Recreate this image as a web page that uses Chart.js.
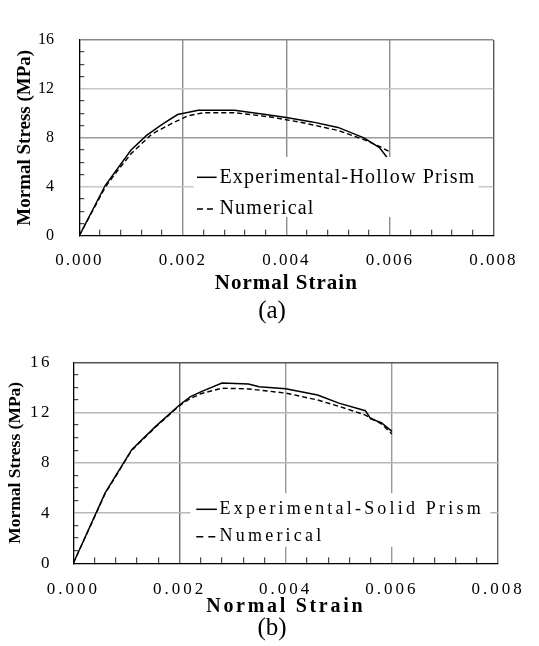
<!DOCTYPE html>
<html>
<head>
<meta charset="utf-8">
<script src="https://cdn.jsdelivr.net/npm/chart.js@4.4.1/dist/chart.umd.min.js"></script>
<style>
  body { margin: 0; background: #fff; }
  #page { position: relative; width: 539px; height: 646px; }
  canvas { position: absolute; left: 0; }
  #chartA { top: 0; }
  #chartB { top: 320px; }
  .caption {
    position: absolute; left: 222px; width: 100px; text-align: center;
    font: 25px/1 "Liberation Serif", "Times New Roman", serif; color: #000;
  }
</style>
</head>
<body>
<div id="page">
  <canvas id="chartA" width="539" height="300"></canvas>
  <div class="caption" style="top:297px">(a)</div>
  <canvas id="chartB" width="539" height="310"></canvas>
  <div class="caption" style="top:614px">(b)</div>
</div>
<script>
// tick labels
const xTickLabels = ['0.000', '0.002', '0.004', '0.006', '0.008'];
const yTickLabels = ['0', '4', '8', '12', '16'];

// (a) hollow prism
const hollowExpStrain = [0, 0.0005, 0.001, 0.0013, 0.0016, 0.0019, 0.0023, 0.003, 0.0036, 0.004, 0.0045, 0.005, 0.0055, 0.0058, 0.006];
const hollowExpStress = [0, 4.1, 7.0, 8.2, 9.1, 9.9, 10.25, 10.25, 9.9, 9.65, 9.3, 8.85, 8.0, 7.2, 6.1];
const hollowNumStrain = [0, 0.0005, 0.0007, 0.001, 0.0014, 0.0018, 0.0021, 0.0024, 0.003, 0.0037, 0.0043, 0.005, 0.0055, 0.0058, 0.006];
const hollowNumStress = [0, 3.95, 5.1, 6.7, 8.3, 9.2, 9.8, 10.05, 10.05, 9.7, 9.25, 8.6, 7.85, 7.3, 6.85];

// (b) solid prism
const solidExpStrain = [0, 0.0006, 0.0011, 0.00155, 0.002, 0.0022, 0.0024, 0.0028, 0.0033, 0.0035, 0.004, 0.0046, 0.005, 0.0055, 0.0056, 0.0058, 0.006];
const solidExpStress = [0, 5.6, 9.05, 10.9, 12.6, 13.25, 13.65, 14.35, 14.28, 14.05, 13.9, 13.4, 12.75, 12.15, 11.5, 11.2, 10.5];
const solidNumStrain = [0, 0.0006, 0.0011, 0.00155, 0.002, 0.0022, 0.0024, 0.0028, 0.0033, 0.004, 0.0046, 0.005, 0.0055, 0.0058, 0.006];
const solidNumStress = [0, 5.55, 9.0, 10.85, 12.55, 13.1, 13.5, 13.94, 13.88, 13.55, 13.0, 12.5, 11.8, 11.1, 10.3];

const SERIF = '"Liberation Serif", "Times New Roman", serif';
Chart.defaults.font.family = SERIF;
Chart.defaults.color = '#000';

const CLEAR = 'rgba(0,0,0,0)';

function points(xs, ys) {
    return xs.map((x, i) => ({ x: x, y: ys[i] }));
}

function onStep(v, step) {
    return Math.abs(v / step - Math.round(v / step)) < 1e-6;
}

// Chart.js has no letter-spacing option, so wrap the scale's text drawing
function spaceText(scale, labelGap, titleGap) {
    if (scale.spaced) return;
    scale.spaced = true;
    const ctx = scale.ctx;
    const drawLabels = scale.drawLabels;
    const drawTitle = scale.drawTitle;
    scale.drawLabels = function(area) {
        ctx.letterSpacing = labelGap;
        drawLabels.call(scale, area);
        ctx.letterSpacing = '0px';
    };
    scale.drawTitle = function() {
        ctx.letterSpacing = titleGap;
        drawTitle.call(scale);
        ctx.letterSpacing = '0px';
    };
}

// legend in a white box inside the plot
const boxLegend = {
    id: 'boxLegend',
    afterDraw(chart, args, o) {
        const ctx = chart.ctx;
        ctx.save();
        ctx.fillStyle = '#fff';
        ctx.fillRect(o.left, o.top, o.width, o.height);
        chart.data.datasets.forEach((ds, i) => {
            const y = o.rows[i];
            ctx.strokeStyle = ds.borderColor;
            ctx.lineWidth = ds.borderWidth;
            ctx.setLineDash(o.dashes[i]);
            ctx.beginPath();
            ctx.moveTo(o.lineFrom, y);
            ctx.lineTo(o.lineTo, y);
            ctx.stroke();
            ctx.setLineDash([]);
            ctx.font = o.textFont;
            ctx.letterSpacing = o.spacing;
            ctx.fillStyle = '#000';
            ctx.textBaseline = 'middle';
            ctx.fillText(ds.label, o.textX, y);
        });
        ctx.restore();
    }
};

function makeChart(id, expLabel, exp, num, look) {
    return new Chart(document.getElementById(id), {
        type: 'scatter',
        data: {
            datasets: [{
                label: expLabel,
                data: exp,
                showLine: true,
                borderColor: '#000',
                borderWidth: 1.5,
                pointRadius: 0,
                tension: 0
            }, {
                label: 'Numerical',
                data: num,
                showLine: true,
                borderColor: '#000',
                borderWidth: 1.4,
                borderDash: [5, 3],
                pointRadius: 0,
                tension: 0
            }]
        },
        options: {
            responsive: false,
            animation: false,
            events: [],
            layout: { padding: look.padding },
            plugins: {
                legend: { display: false },
                tooltip: { enabled: false },
                boxLegend: look.legend
            },
            scales: {
                x: {
                    type: 'linear',
                    min: 0,
                    max: 0.008,
                    border: { color: '#000', width: 1.3 },
                    grid: {
                        tickLength: -6,
                        lineWidth: 1.4,
                        tickWidth: 1,
                        color: c => onStep(c.tick.value, 0.002) ? look.vGrid[Math.round(c.tick.value / 0.002)] : CLEAR,
                        tickColor: c => onStep(c.tick.value, 0.002) ? CLEAR : '#222'
                    },
                    ticks: {
                        stepSize: 0.0004,
                        autoSkip: false,
                        maxRotation: 0,
                        padding: look.xPad,
                        font: { size: 17 },
                        callback: v => onStep(v, 0.002) ? xTickLabels[Math.round(v / 0.002)] : ''
                    },
                    title: {
                        display: true,
                        text: 'Normal Strain',
                        font: { size: look.xTitleSize, weight: 'bold', lineHeight: 1 },
                        padding: { top: 0, bottom: look.xTitlePad }
                    },
                    afterFit: s => {
                        s.height = look.xHeight;
                        spaceText(s, look.xTickGap, look.xTitleGap);
                    }
                },
                y: {
                    min: 0,
                    max: 16,
                    border: { color: '#000', width: 1.3 },
                    grid: {
                        tickLength: -5,
                        lineWidth: 1.4,
                        tickWidth: 1,
                        color: c => onStep(c.tick.value, 4) ? look.hGrid[Math.round(c.tick.value / 4)] : CLEAR,
                        tickColor: c => onStep(c.tick.value, 4) ? CLEAR : '#222'
                    },
                    ticks: {
                        stepSize: 1,
                        autoSkip: false,
                        padding: look.yPad,
                        font: { size: look.yTickSize },
                        callback: v => onStep(v, 4) ? yTickLabels[Math.round(v / 4)] : ''
                    },
                    title: {
                        display: true,
                        text: 'Mormal Stress (MPa)',
                        font: { size: look.yTitleSize, weight: 'bold' },
                        padding: { top: look.yTitlePad, bottom: 0 }
                    },
                    afterFit: s => {
                        s.width = look.yWidth;
                        spaceText(s, look.yTickGap, '0px');
                    }
                }
            }
        },
        plugins: [boxLegend]
    });
}

makeChart('chartA', 'Experimental-Hollow Prism',
    points(hollowExpStrain, hollowExpStress), points(hollowNumStrain, hollowNumStress), {
    padding: { top: 19, right: 45.7, bottom: 2.3, left: 0 },
    xHeight: 62, xPad: 21.1, xTickGap: '2px', xTitleSize: 21, xTitlePad: 3.2, xTitleGap: '1px',
    yWidth: 79.3, yPad: 30.3, yTickGap: '0px', yTickSize: 16, yTitleSize: 19, yTitlePad: 13.2,
    vGrid: [CLEAR, '#8c8c8c', '#8c8c8c', '#8c8c8c', '#5a5a5a'],
    hGrid: [CLEAR, '#c6c6c6', '#9c9c9c', '#c6c6c6', '#8a8a8a'],
    legend: {
        left: 193.6, top: 157, width: 285, height: 60,
        rows: [177.3, 209], lineFrom: 197, lineTo: 216.6, textX: 219.4,
        textFont: '20px ' + SERIF, spacing: '1.2px', dashes: [[], [6, 4]]
    }
});

makeChart('chartB', 'Experimental-Solid Prism',
    points(solidExpStrain, solidExpStress), points(solidNumStrain, solidNumStress), {
    padding: { top: 42.3, right: 35.7, bottom: 9.7, left: 0 },
    xHeight: 57, xPad: 21.7, xTickGap: '3px', xTitleSize: 20, xTitlePad: 3.6, xTitleGap: '2.7px',
    yWidth: 73.3, yPad: 26.3, yTickGap: '2.5px', yTickSize: 17, yTitleSize: 17.5, yTitlePad: 5.3,
    vGrid: [CLEAR, '#6a6a6a', '#9a9a9a', '#9a9a9a', '#6a6a6a'],
    hGrid: [CLEAR, '#b8b8b8', '#b8b8b8', '#b8b8b8', '#555555'],
    legend: {
        left: 190.5, top: 173.3, width: 300, height: 53.4,
        rows: [189.3, 216.7], lineFrom: 196.3, lineTo: 216.9, textX: 219.6,
        textFont: '18px ' + SERIF, spacing: '3.2px', dashes: [[], [7, 5]]
    }
});
</script>
</body>
</html>
